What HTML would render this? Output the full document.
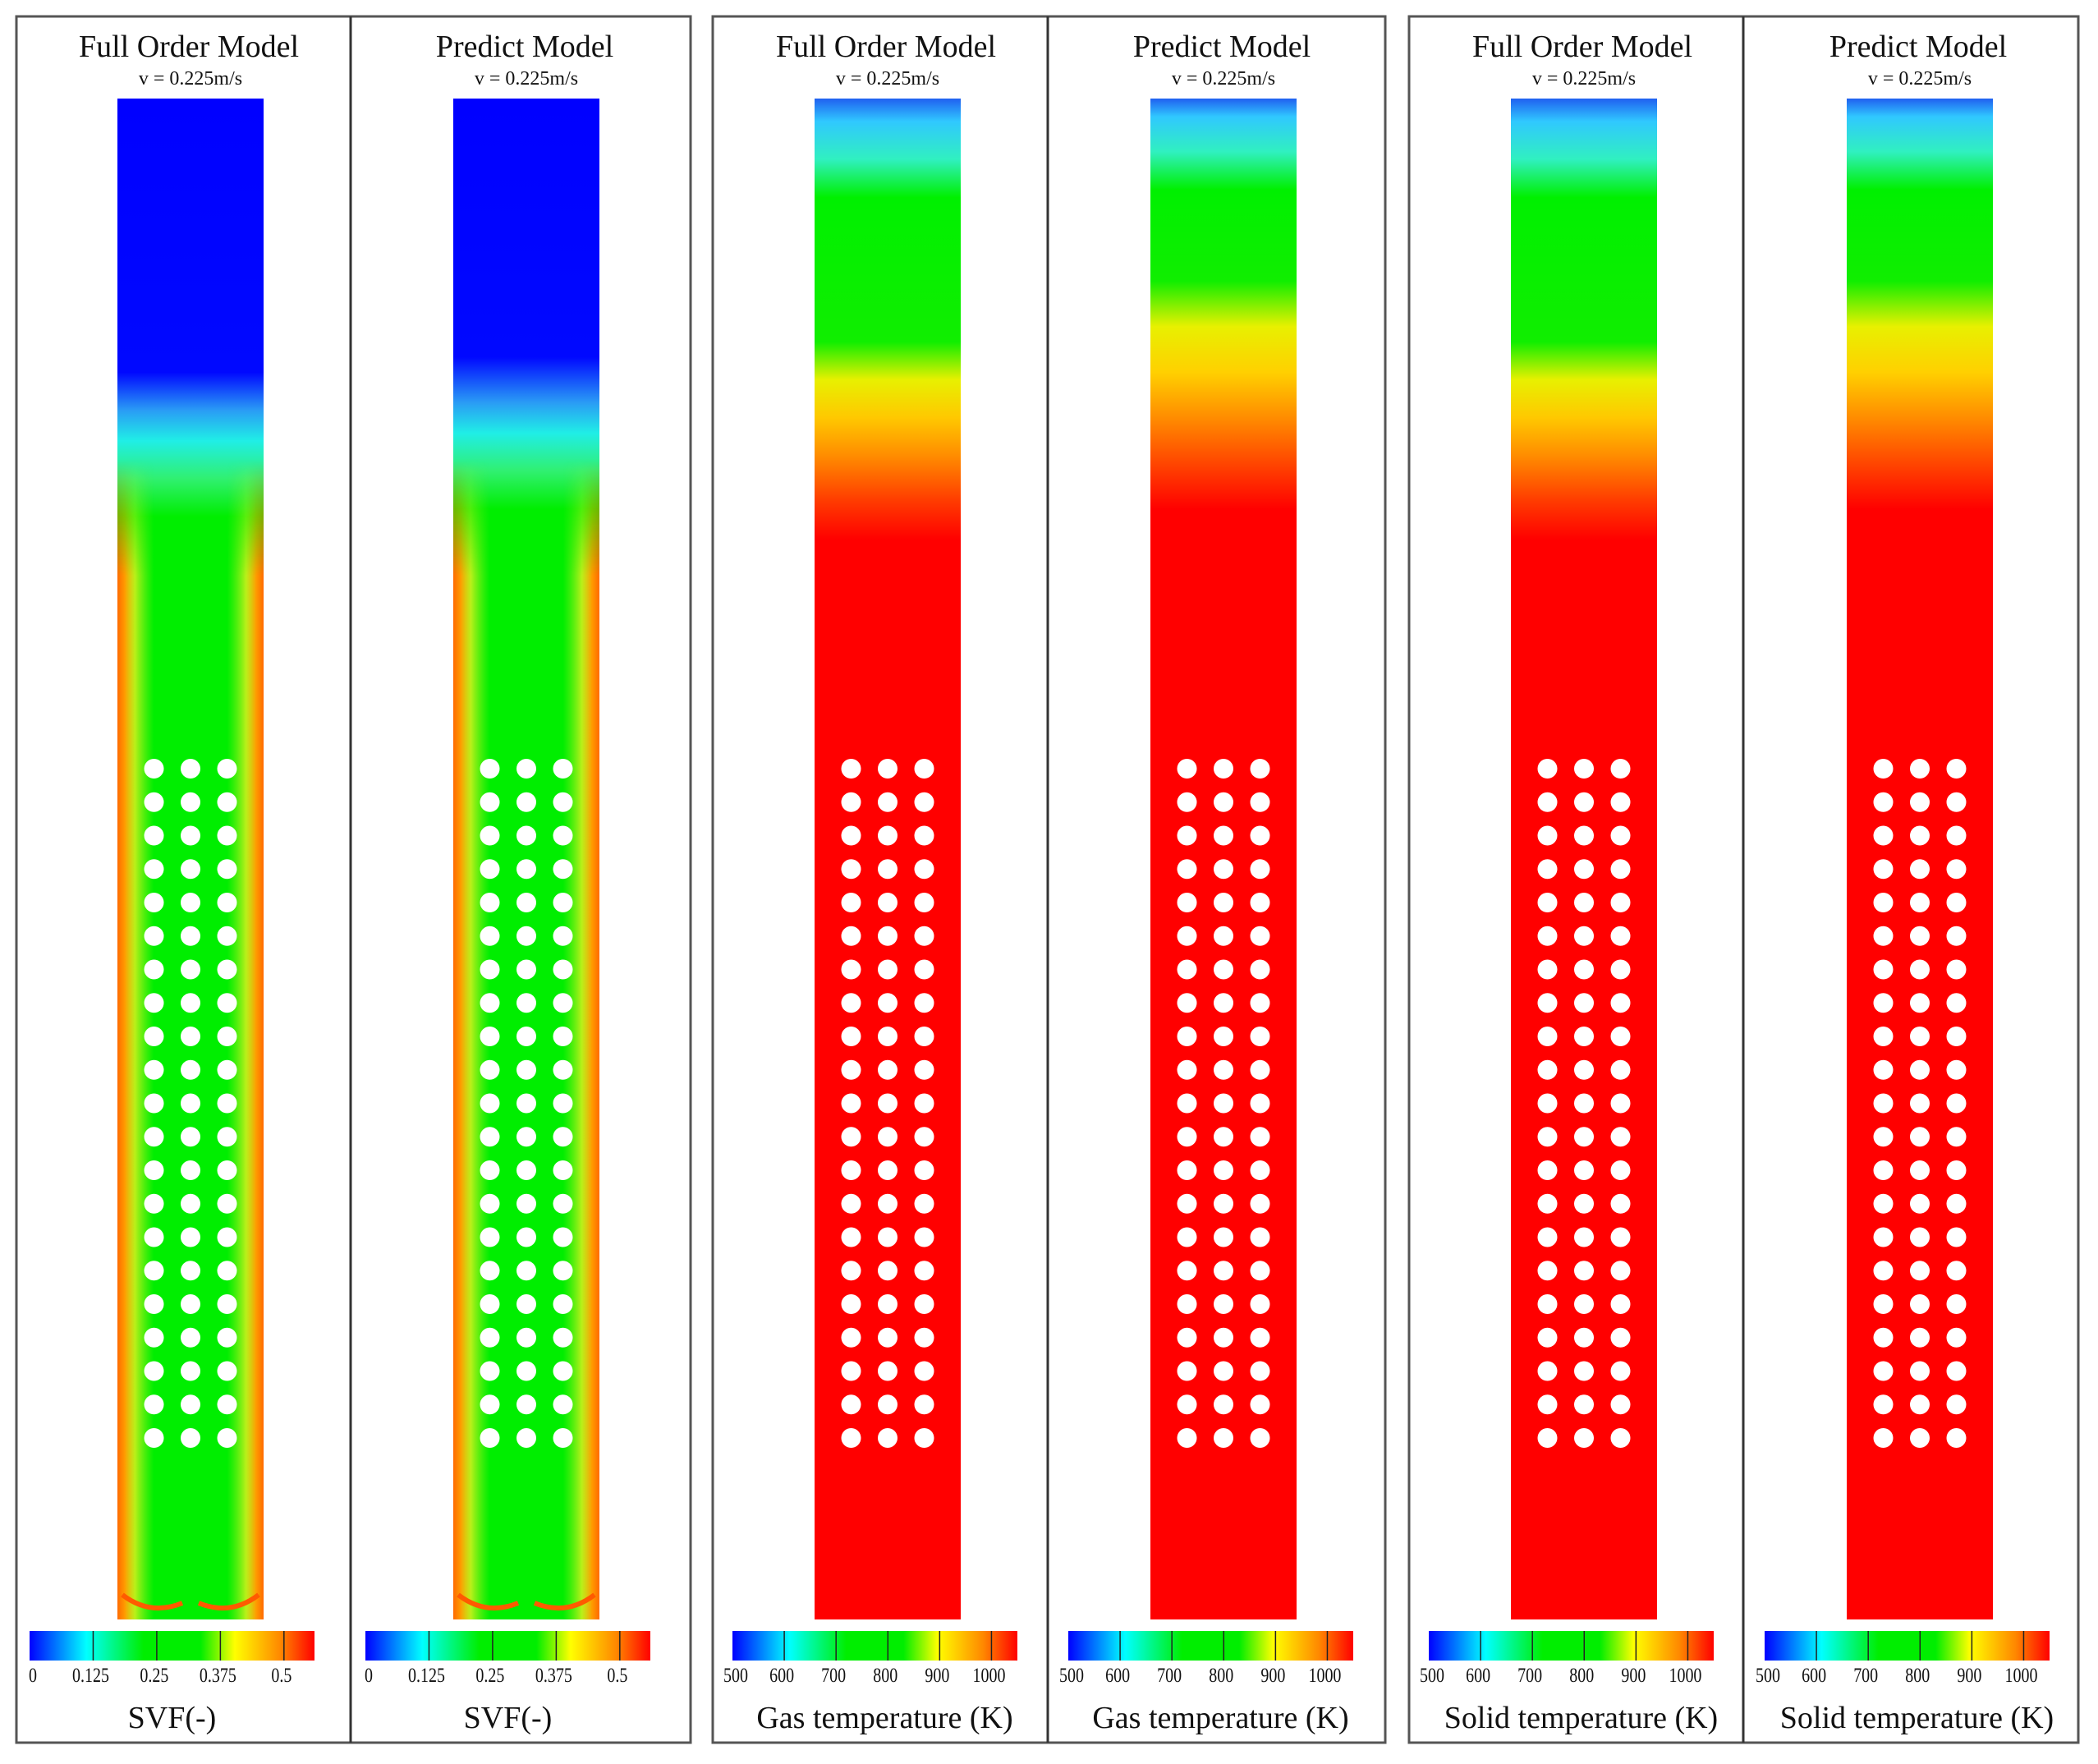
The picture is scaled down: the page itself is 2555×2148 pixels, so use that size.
<!DOCTYPE html>
<html><head><meta charset="utf-8">
<style>
html,body{margin:0;padding:0;background:#fff;}
svg{display:block;}
text{font-family:"Liberation Serif",serif;fill:#111;}
</style></head>
<body>
<svg id="fig" width="2555" height="2148" viewBox="0 0 2555 2148" xmlns="http://www.w3.org/2000/svg">
<defs>
<linearGradient id="g-svf" x1="0" y1="0" x2="0" y2="1">
<stop offset="0" stop-color="#0000ff"/><stop offset="0.18" stop-color="#0008ff"/>
<stop offset="0.205" stop-color="#2a9cf5"/><stop offset="0.225" stop-color="#20eee6"/>
<stop offset="0.25" stop-color="#30f070"/><stop offset="0.275" stop-color="#00ee00"/>
<stop offset="1" stop-color="#00ee00"/></linearGradient>
<linearGradient id="g-svf-p" x1="0" y1="0" x2="0" y2="1">
<stop offset="0" stop-color="#0000ff"/><stop offset="0.17" stop-color="#0008ff"/>
<stop offset="0.2" stop-color="#2a9cf5"/><stop offset="0.22" stop-color="#20eee6"/>
<stop offset="0.245" stop-color="#30f070"/><stop offset="0.27" stop-color="#00ee00"/>
<stop offset="1" stop-color="#00ee00"/></linearGradient>
<linearGradient id="g-wall" x1="0" y1="0" x2="1" y2="0">
<stop offset="0" stop-color="#ff6a00"/><stop offset="0.05" stop-color="#ff9a00"/>
<stop offset="0.12" stop-color="#e8f020" stop-opacity="0.8"/><stop offset="0.25" stop-color="#9cf020" stop-opacity="0"/>
<stop offset="0.75" stop-color="#9cf020" stop-opacity="0"/><stop offset="0.88" stop-color="#e8f020" stop-opacity="0.8"/>
<stop offset="0.95" stop-color="#ff9a00"/><stop offset="1" stop-color="#ff6a00"/></linearGradient>
<linearGradient id="g-wallfade" x1="0" y1="0" x2="0" y2="1">
<stop offset="0" stop-color="#fff" stop-opacity="0"/><stop offset="0.1" stop-color="#fff" stop-opacity="1"/>
<stop offset="1" stop-color="#fff" stop-opacity="1"/></linearGradient>
<linearGradient id="g-tf" x1="0" y1="0" x2="0" y2="1">
<stop offset="0" stop-color="#2060f0"/><stop offset="0.015" stop-color="#30c8ff"/>
<stop offset="0.04" stop-color="#30f0c0"/><stop offset="0.065" stop-color="#00f000"/>
<stop offset="0.16" stop-color="#10ee00"/><stop offset="0.185" stop-color="#e8f000"/>
<stop offset="0.21" stop-color="#ffc800"/><stop offset="0.235" stop-color="#ff8c00"/>
<stop offset="0.265" stop-color="#ff3a00"/><stop offset="0.29" stop-color="#ff0000"/>
<stop offset="1" stop-color="#ff0000"/></linearGradient>
<linearGradient id="g-tp" x1="0" y1="0" x2="0" y2="1">
<stop offset="0" stop-color="#2060f0"/><stop offset="0.012" stop-color="#30c8ff"/>
<stop offset="0.035" stop-color="#30f0c0"/><stop offset="0.06" stop-color="#00f000"/>
<stop offset="0.12" stop-color="#10ee00"/><stop offset="0.15" stop-color="#e8f000"/>
<stop offset="0.18" stop-color="#ffd000"/><stop offset="0.21" stop-color="#ff8c00"/>
<stop offset="0.245" stop-color="#ff3a00"/><stop offset="0.27" stop-color="#ff0000"/>
<stop offset="1" stop-color="#ff0000"/></linearGradient>
<linearGradient id="g-cb" x1="0" y1="0" x2="1" y2="0">
<stop offset="0" stop-color="#0000ff"/><stop offset="0.2" stop-color="#00ffff"/>
<stop offset="0.4" stop-color="#00ee00"/><stop offset="0.6" stop-color="#00ee00"/>
<stop offset="0.72" stop-color="#ffff00"/><stop offset="0.88" stop-color="#ff8800"/>
<stop offset="1" stop-color="#ff0000"/></linearGradient>
</defs>
<g id="layer"></g>
</svg>
<script>
const holeRows = 21;
const holeCols = [0.25, 0.5, 0.75];
const svfTicks = [0, 0.125, 0.25, 0.375, 0.5];
const svfMax = 0.56;
const tempTicks = [500, 600, 700, 800, 900, 1000];
const tempMin = 500, tempMax = 1050;

const NS = 'http://www.w3.org/2000/svg';
const layer = document.getElementById('layer');
function mk(tag, attrs, parent, txt){
  const e = document.createElementNS(NS, tag);
  for (const k in attrs) e.setAttribute(k, attrs[k]);
  if (txt !== undefined) e.textContent = txt;
  (parent || layer).appendChild(e);
  return e;
}
const groups = [[20,841,427],[868,1687,1276],[1716,2531,2123]];
groups.forEach((g,i)=>{
  const r = mk('rect',{x:g[0],y:20,width:g[1]-g[0],height:2102,fill:'none',stroke:'#555','stroke-width':3});
  
  
  const d = mk('line',{x1:g[2],y1:20,x2:g[2],y2:2122,stroke:'#333','stroke-width':3});
  
  
});
const panels = [
  {fx:143, title:'Full Order Model', kind:'svf', grad:'g-svf', cb:36, label:'SVF(-)'},
  {fx:552, title:'Predict Model', kind:'svf', grad:'g-svf-p', cb:445, label:'SVF(-)'},
  {fx:992, title:'Full Order Model', kind:'t', grad:'g-tf', cb:892, label:'Gas  temperature (K)'},
  {fx:1401, title:'Predict Model', kind:'t', grad:'g-tp', cb:1301, label:'Gas  temperature (K)'},
  {fx:1840, title:'Full Order Model', kind:'t', grad:'g-tf', cb:1740, label:'Solid  temperature (K)'},
  {fx:2249, title:'Predict Model', kind:'t', grad:'g-tp', cb:2149, label:'Solid  temperature (K)'}
];
const FW = 178, FT = 120, FB = 1972, CBW = 347, CBY = 1986, CBH = 36;
panels.forEach((p,i)=>{
  const g = mk('g',{});
  
  
  const cx = p.fx + FW/2;
  const t = mk('text',{x:cx-2,y:69,'text-anchor':'middle','font-size':38},g,p.title);
  
  
  const s = mk('text',{x:cx,y:103,'text-anchor':'middle','font-size':24},g,'v = 0.225m/s');
  
  
  const f = mk('rect',{x:p.fx,y:FT,width:FW,height:FB-FT,fill:'url(#'+p.grad+')'},g);
  
  
  if (p.kind==='svf'){
    const mid = 'm-wall-'+i;
    const m = mk('mask',{id:mid},g);
    mk('rect',{x:p.fx,y:FT+440,width:FW,height:FB-FT-440,fill:'url(#g-wallfade)'},m);
    const w = mk('rect',{x:p.fx,y:FT+440,width:FW,height:FB-FT-440,fill:'url(#g-wall)',mask:'url(#'+mid+')'},g);
    
    
    const b = mk('path',{d:`M${p.fx+6} ${FB-30} Q${p.fx+40} ${FB-4} ${cx-10} ${FB-20} M${cx+10} ${FB-20} Q${p.fx+FW-40} ${FB-4} ${p.fx+FW-6} ${FB-30}`,fill:'none',stroke:'#ff5a00','stroke-width':6},g);
    
    
  }
  for (let r=0;r<holeRows;r++){
    holeCols.forEach(c=>{
      const h = mk('circle',{cx:p.fx+c*FW,cy:936+r*40.75,r:12,fill:'#fff'},g);
      
      
    });
  }
  const cb = mk('rect',{x:p.cb,y:CBY,width:CBW,height:CBH,fill:'url(#g-cb)'},g);
  
  
  const ticks = p.kind==='svf'? svfTicks : tempTicks;
  const lo = p.kind==='svf'? 0 : tempMin, hi = p.kind==='svf'? svfMax : tempMax;
  const sx = v => p.cb + (v-lo)/(hi-lo)*CBW;
  ticks.forEach((v,k)=>{
    const x = sx(v);
    if (k>0){
      const l = mk('line',{x1:x,y1:CBY,x2:x,y2:CBY+CBH,stroke:'#222','stroke-width':1.5},g);
      
      
    }
    const tx = Math.max(x-3,p.cb+4);
    const tl = mk('text',{x:tx,y:2048,'text-anchor':'middle','font-size':25,fill:'#333',transform:`translate(${tx} 0) scale(0.8 1) translate(${-tx} 0)`},g,String(v));
    
    
  });
  const lab = mk('text',{x:p.cb+CBW/2+(p.kind==='svf'?0:12),y:2104,'text-anchor':'middle','font-size':38},g,p.label);
  
  
});
</script>
</body></html>
